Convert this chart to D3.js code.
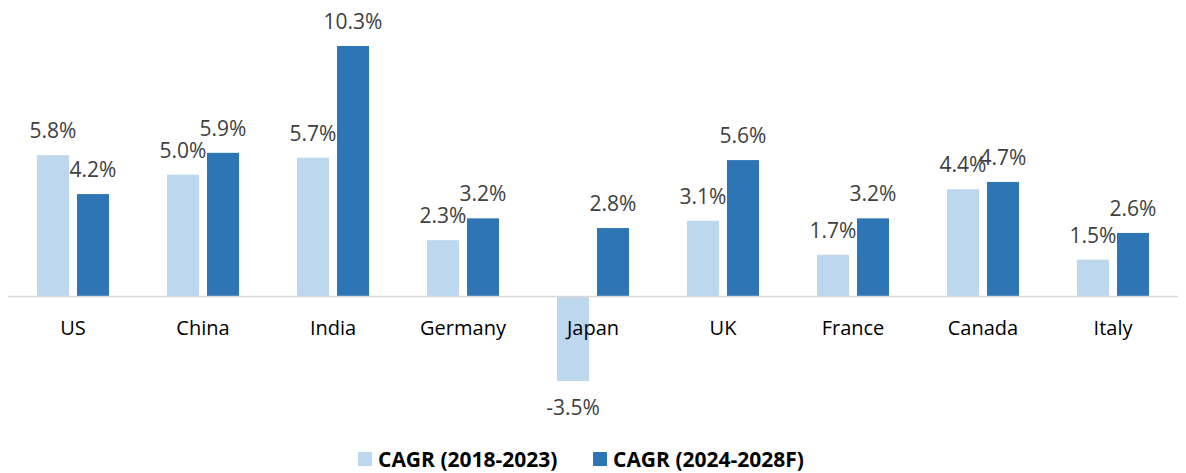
<!DOCTYPE html>
<html>
<head>
<meta charset="utf-8">
<script src="https://cdn.jsdelivr.net/npm/d3@7"></script>
<style>
  body { margin: 0; background: #fff; }
  text { font-family: 'Open Sans', sans-serif; }
</style>
</head>
<body>
<div id="chart"></div>
<script>
// data
let countries = ['US', 'China', 'India', 'Germany', 'Japan', 'UK', 'France', 'Canada', 'Italy']
let series = ['CAGR (2018-2023)', 'CAGR (2024-2028F)']
let cagrPast = [5.8, 5.0, 5.7, 2.3, -3.5, 3.1, 1.7, 4.4, 1.5]
let cagrFuture = [4.2, 5.9, 10.3, 3.2, 2.8, 5.6, 3.2, 4.7, 2.6]
let colors = ['#bdd7ee', '#2e75b6']

let width = 1186
let height = 473

let svg = d3.select('#chart')
  .append('svg')
  .attr('width', width)
  .attr('height', height)

let rows = countries.map((c, i) => ({ country: c, values: [cagrPast[i], cagrFuture[i]] }))

// scales
let xPositionScale = d3.scaleBand()
  .domain(countries)
  .range([8, 1178])

let xInner = d3.scaleBand()
  .domain([0, 1])
  .range([29, 101])
  .paddingInner(0.2)

let yPositionScale = d3.scaleLinear()
  .domain([-3.5, 10.3])
  .range([381, 46])

let groups = svg.selectAll('.group')
  .data(rows)
  .enter()
  .append('g')
  .attr('class', 'group')
  .attr('transform', d => 'translate(' + xPositionScale(d.country) + ',0)')

let bars = groups.selectAll('.bar')
  .data(d => d.values.map((v, i) => ({ v: v, i: i })))
  .enter()

bars.append('rect')
  .attr('class', 'bar')
  .attr('x', d => xInner(d.i))
  .attr('width', xInner.bandwidth())
  .attr('y', d => yPositionScale(Math.max(0, d.v)))
  .attr('height', d => Math.abs(yPositionScale(d.v) - yPositionScale(0)))
  .attr('fill', d => colors[d.i])

// value labels
bars.append('text')
  .text(d => d.v.toFixed(1) + '%')
  .attr('x', d => xInner(d.i) + xInner.bandwidth() / 2)
  .attr('y', d => d.v >= 0 ? yPositionScale(d.v) - 17 : yPositionScale(d.v) + 34)
  .attr('text-anchor', 'middle')
  .attr('font-size', 21)
  .attr('fill', '#404040')

// zero line
svg.append('line')
  .attr('x1', 8)
  .attr('x2', 1178)
  .attr('y1', yPositionScale(0) + 0.5)
  .attr('y2', yPositionScale(0) + 0.5)
  .attr('stroke', '#d9d9d9')
  .attr('stroke-width', 1.5)

// category labels
svg.selectAll('.cat')
  .data(countries)
  .enter()
  .append('text')
  .attr('class', 'cat')
  .text(d => d)
  .attr('x', d => xPositionScale(d) + xPositionScale.bandwidth() / 2)
  .attr('y', 335)
  .attr('text-anchor', 'middle')
  .attr('font-size', 20)
  .attr('fill', '#000')

// legend
let legendX = [358, 593]
let legend = svg.selectAll('.legend')
  .data(series)
  .enter()
  .append('g')
  .attr('class', 'legend')
  .attr('transform', (d, i) => 'translate(' + legendX[i] + ',452)')

legend.append('rect')
  .attr('width', 14)
  .attr('height', 14)
  .attr('fill', (d, i) => colors[i])

legend.append('text')
  .text(d => d)
  .attr('x', 20)
  .attr('y', 15)
  .attr('font-size', 21)
  .attr('font-weight', 'bold')
  .attr('fill', '#000')
</script>
</body>
</html>
